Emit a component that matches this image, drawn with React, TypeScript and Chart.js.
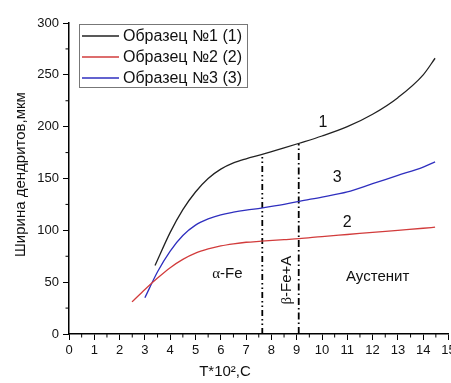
import React, { useEffect, useRef } from "react";
import { Chart, registerables } from "chart.js";

Chart.register(...registerables);

const s1T = [3.4, 4.0, 4.5, 5.0, 5.5, 6.0, 6.5, 7.0, 7.6, 8.5, 9.1, 10.0, 11.0, 12.0, 13.0, 14.0, 14.47];
const s1V = [66, 98, 120, 137, 150, 159, 165, 169, 173, 179.5, 184, 191, 200, 212, 228, 250, 266];
const s2T = [2.49, 3.0, 3.5, 4.0, 4.5, 5.0, 5.5, 6.0, 6.5, 7.0, 7.6, 8.5, 9.1, 10.0, 11.0, 12.0, 13.0, 14.0, 14.47];
const s2V = [31, 43, 54, 64, 72, 78, 82, 85, 87, 88.5, 89.5, 91, 92, 94, 96, 98, 100, 102, 103];
const s3T = [3.0, 3.5, 4.0, 4.5, 5.0, 5.5, 6.0, 6.5, 7.0, 7.6, 8.5, 9.1, 10.0, 11.0, 12.0, 13.0, 14.0, 14.47];
const s3V = [35, 60, 80, 95, 105, 111, 115, 117.5, 119.5, 121.5, 125, 128, 132, 137, 145, 153, 161, 166];
const seriesNames = ["Образец №1 (1)", "Образец №2 (2)", "Образец №3 (3)"];
const seriesColors = ["#222222", "#d23c3c", "#2f2fbf"];
const phaseLineT = [7.64, 9.08];
const phaseLineTop = [173, 184];
const curveLabels = [
  { text: "1", t: 10.04, v: 204 },
  { text: "3", t: 10.6, v: 151 },
  { text: "2", t: 11.0, v: 107 },
];
const regionLabels = [
  { text: "-Fe", greek: "α", t: 6.26, v: 58 },
  { text: "Аустенит", greek: "", t: 12.2, v: 55 },
];
const betaLabel = { greek: "β", text: "-Fe+A", t: 8.6, v: 52 };
const yTitle = "Ширина дендритов,мкм";
const xTitle = "T*10²,C";

const toPts = (t: number[], v: number[]) => t.map((x, i) => ({ x, y: v[i] }));

export default function App() {
  const ref = useRef<HTMLCanvasElement>(null);
  useEffect(() => {
    const canvas = ref.current!;
    const sans = "Arial, 'Liberation Sans', sans-serif";
    const serif = "'Liberation Serif', 'Times New Roman', serif";

    const decor = {
      id: "decor",
      afterDraw(chart: any) {
        const ctx = chart.ctx;
        const xs = chart.scales.x;
        const ys = chart.scales.y;
        ctx.save();
        ctx.strokeStyle = "#000";
        ctx.lineWidth = 1;
        for (let t = 0.5; t < 15; t += 1) {
          const px = xs.getPixelForValue(t);
          ctx.beginPath();
          ctx.moveTo(px, ys.bottom);
          ctx.lineTo(px, ys.bottom + 3.5);
          ctx.stroke();
        }
        for (let v = 25; v < 300; v += 50) {
          const py = ys.getPixelForValue(v);
          ctx.beginPath();
          ctx.moveTo(xs.left, py);
          ctx.lineTo(xs.left - 3.5, py);
          ctx.stroke();
        }
        ctx.fillStyle = "#111";
        ctx.font = `15px ${sans}`;
        ctx.textAlign = "center";
        ctx.textBaseline = "middle";
        ctx.fillText(xTitle, 225, 372);
        ctx.save();
        ctx.translate(21, (ys.top + ys.bottom) / 2 - 4);
        ctx.rotate(-Math.PI / 2);
        ctx.fillText(yTitle, 0, 0);
        ctx.restore();
        ctx.font = `16px ${sans}`;
        curveLabels.forEach((l) => {
          ctx.fillText(l.text, xs.getPixelForValue(l.t), ys.getPixelForValue(l.v));
        });
        regionLabels.forEach((l) => {
          const px = xs.getPixelForValue(l.t);
          const py = ys.getPixelForValue(l.v);
          if (l.greek) {
            ctx.font = `15px ${serif}`;
            const gw = ctx.measureText(l.greek).width;
            ctx.font = `15px ${sans}`;
            const tw = ctx.measureText(l.text).width;
            const x0 = px - (gw + tw) / 2;
            ctx.textAlign = "left";
            ctx.font = `15px ${serif}`;
            ctx.fillText(l.greek, x0, py);
            ctx.font = `15px ${sans}`;
            ctx.fillText(l.text, x0 + gw, py);
            ctx.textAlign = "center";
          } else {
            ctx.font = `15px ${sans}`;
            ctx.fillText(l.text, px, py);
          }
        });
        {
          const px = xs.getPixelForValue(betaLabel.t);
          const py = ys.getPixelForValue(betaLabel.v);
          ctx.save();
          ctx.translate(px, py);
          ctx.rotate(-Math.PI / 2);
          ctx.font = `15px ${serif}`;
          const gw = ctx.measureText(betaLabel.greek).width;
          ctx.font = `15px ${sans}`;
          const tw = ctx.measureText(betaLabel.text).width;
          const x0 = -(gw + tw) / 2;
          ctx.textAlign = "left";
          ctx.font = `15px ${serif}`;
          ctx.fillText(betaLabel.greek, x0, 0);
          ctx.font = `15px ${sans}`;
          ctx.fillText(betaLabel.text, x0 + gw, 0);
          ctx.restore();
        }
        const lx = xs.left + 10;
        const ly = ys.top + 1;
        const lw = 168;
        const lh = 63;
        ctx.fillStyle = "#fff";
        ctx.fillRect(lx, ly, lw, lh);
        ctx.strokeStyle = "#777";
        ctx.lineWidth = 1;
        ctx.strokeRect(lx + 0.5, ly + 0.5, lw, lh);
        ctx.font = `16px ${sans}`;
        ctx.textAlign = "left";
        ctx.textBaseline = "middle";
        seriesNames.forEach((n, i) => {
          const ry = ly + 12 + i * 21;
          ctx.strokeStyle = seriesColors[i];
          ctx.lineWidth = 1.3;
          ctx.beginPath();
          ctx.moveTo(lx + 3, ry);
          ctx.lineTo(lx + 40, ry);
          ctx.stroke();
          ctx.fillStyle = "#111";
          ctx.fillText(n, lx + 44, ry + 1);
        });
        ctx.restore();
      },
    };

    const curve = (i: number, t: number[], v: number[]) => ({
      label: seriesNames[i],
      data: toPts(t, v),
      borderColor: seriesColors[i],
      borderWidth: 1.3,
      pointRadius: 0,
      cubicInterpolationMode: "monotone",
    });

    const chart = new Chart(canvas, {
      type: "line",
      data: {
        datasets: [
          curve(0, s1T, s1V),
          curve(1, s2T, s2V),
          curve(2, s3T, s3V),
          {
            label: "phase1",
            data: [
              { x: phaseLineT[0], y: 0 },
              { x: phaseLineT[0], y: phaseLineTop[0] },
            ],
            borderColor: "#000",
            borderWidth: 1.8,
            borderDash: [6, 3, 1.5, 3, 1.5, 3],
            pointRadius: 0,
          },
          {
            label: "phase2",
            data: [
              { x: phaseLineT[1], y: 0 },
              { x: phaseLineT[1], y: phaseLineTop[1] },
            ],
            borderColor: "#000",
            borderWidth: 1.8,
            borderDash: [7, 3, 1.5, 3],
            pointRadius: 0,
          },
        ],
      },
      options: {
        animation: false,
        responsive: false,
        devicePixelRatio: 1,
        layout: { padding: { top: 23, right: 11.5, left: 0, bottom: 0 } },
        plugins: { legend: { display: false }, tooltip: { enabled: false } },
        scales: {
          x: {
            type: "linear",
            min: 0,
            max: 15,
            afterFit: (s: any) => {
              s.height = 49;
            },
            border: { display: true, color: "#000", width: 1.5 },
            grid: { display: true, drawOnChartArea: false, tickLength: 6, tickColor: "#000" },
            ticks: { stepSize: 1, color: "#111", font: { size: 13, family: sans }, padding: 3, maxRotation: 0 },
          },
          y: {
            type: "linear",
            min: 0,
            max: 300,
            afterFit: (s: any) => {
              s.width = 69;
            },
            border: { display: true, color: "#000", width: 1.5 },
            grid: { display: true, drawOnChartArea: false, tickLength: 6, tickColor: "#000" },
            ticks: { stepSize: 50, color: "#111", font: { size: 13, family: sans }, padding: 4 },
          },
        },
      },
      plugins: [decor],
    } as any);
    return () => chart.destroy();
  }, []);
  return (
    <div style={{ position: "fixed", left: 0, top: 0, width: 451, height: 383, overflow: "hidden", background: "#fff" }}>
      <canvas ref={ref} width={460} height={383} style={{ display: "block" }} />
    </div>
  );
}
